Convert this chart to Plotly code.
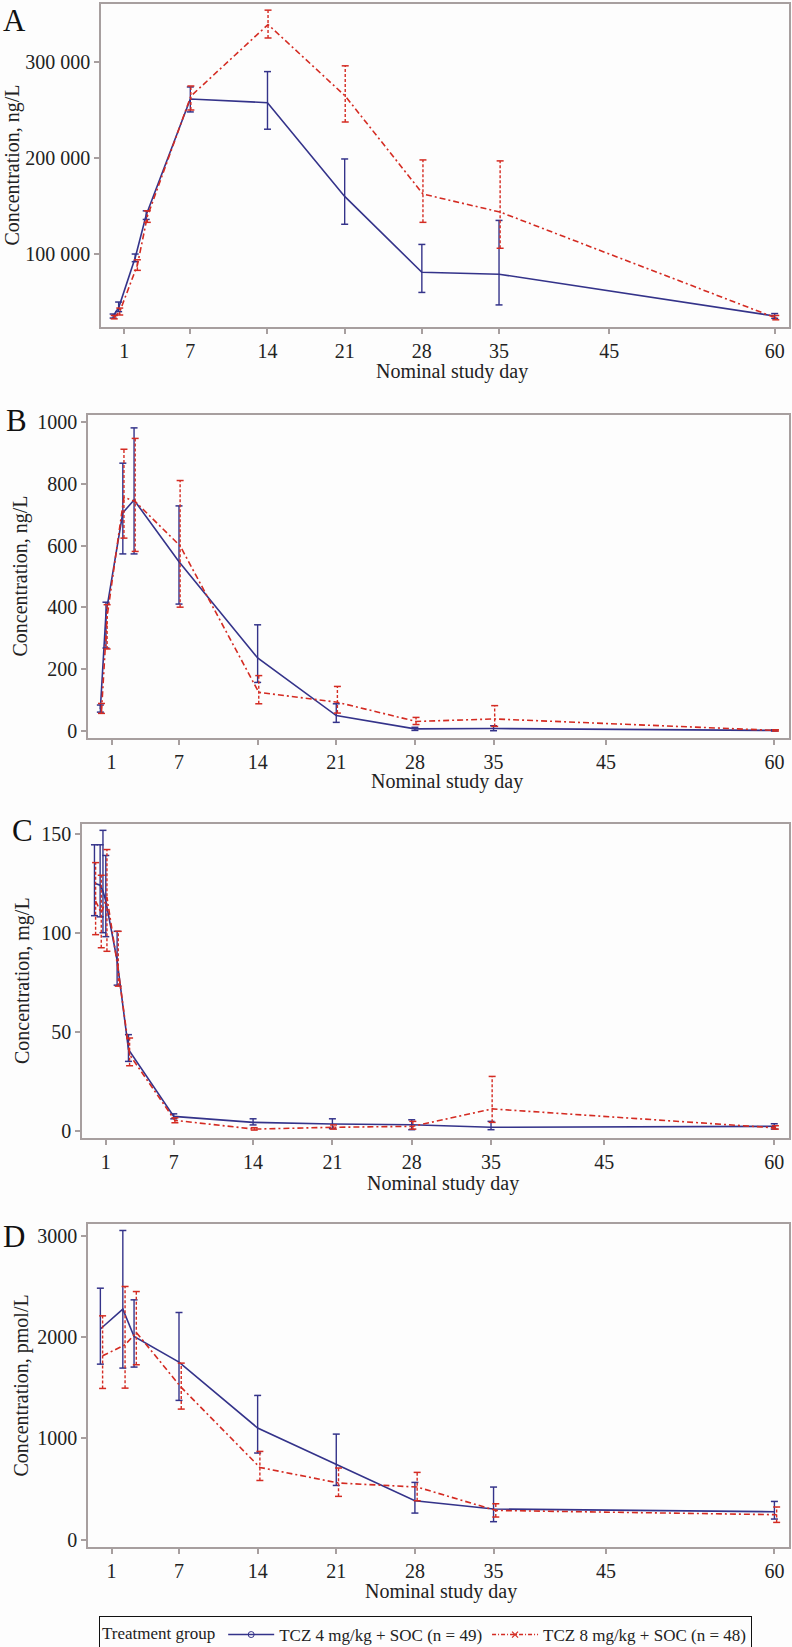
import plotly.graph_objects as go

W, H = 792, 1647
BLUE = "#34338a"
RED = "#d42b22"
FRAME = "#a79f9f"
FONT = "Liberation Serif"

# ---------------- data ----------------
x_tick_vals = [1, 7, 14, 21, 28, 35, 45, 60]

# Panel A (ng/L)
A_days_4 = [0, 0.5, 2, 3, 7, 14, 21, 28, 35, 60]
A_mean_4 = [35400, 44000, 96000, 140600, 261500, 257600, 160000, 81000, 79000, 35400]
A_lo_4 = [33300, 40000, 92000, 136000, 248000, 230000, 131000, 60000, 47000, 33000]
A_hi_4 = [37500, 50000, 100000, 145000, 274000, 290000, 199000, 110000, 135000, 38000]
A_days_8 = [0.1, 0.6, 2.2, 3.1, 7.05, 14.05, 21.05, 28.1, 35.1, 60.1]
A_mean_8 = [34000, 40000, 88500, 139000, 264500, 339000, 264600, 162500, 143700, 33500]
A_lo_8 = [32500, 36500, 83000, 133000, 250000, 325000, 237500, 133000, 106000, 31500]
A_hi_8 = [36000, 43700, 94000, 145000, 275000, 354000, 296000, 198000, 197000, 36000]
A_yticks = [100000, 200000, 300000]
A_yticktext = ["100 000", "200 000", "300 000"]

# Panel B (ng/L)
B_days_4 = [0, 0.5, 2, 3, 7, 14, 21, 28, 35, 60]
B_mean_4 = [72, 380, 706, 747, 548, 237, 51, 8, 9, 3]
B_lo_4 = [62, 269, 573, 573, 411, 158, 29, 3, 2, 1]
B_hi_4 = [85, 417, 866, 980, 728, 344, 89, 13, 18, 5]
B_days_8 = [0.1, 0.6, 2.1, 3.1, 7.1, 14.1, 21.1, 28.1, 35.1, 60.1]
B_mean_8 = [65, 370, 756, 742, 599, 126, 94, 32, 40, 3]
B_lo_8 = [58, 266, 624, 581, 401, 89, 59, 22, 16, 1]
B_hi_8 = [90, 409, 911, 946, 810, 180, 145, 45, 83, 5]
B_yticks = [0, 200, 400, 600, 800, 1000]
B_yticktext = ["0", "200", "400", "600", "800", "1000"]

# Panel C (mg/L)
C_days_4 = [0, 0.5, 0.75, 1.0, 2, 3, 7, 14, 21, 28, 35, 60]
C_mean_4 = [125, 124, 121, 116, 86, 41, 7.2, 4.2, 3.4, 3.0, 1.7, 2.2]
C_lo_4 = [108.6, 108, 100, 98, 73.5, 35, 6, 2.9, 1, 0.5, 0.5, 0.8]
C_hi_4 = [144.4, 144.4, 151.7, 139, 100.7, 48.5, 8.5, 6, 6, 5.5, 4.7, 3.5]
C_days_8 = [0.1, 0.6, 1.1, 2.1, 3.1, 7.1, 14.1, 21.1, 28.1, 35.1, 60.1]
C_mean_8 = [116, 110, 118, 81, 38.4, 5.2, 0.8, 1.7, 2.2, 11, 1.4]
C_lo_8 = [99, 92.4, 90.6, 73, 32.8, 4, 0.3, 0.8, 0.8, 4.2, 0.8]
C_hi_8 = [135.4, 129, 142, 100.7, 46.8, 6.5, 1.5, 2.9, 4.7, 27.4, 2.5]
C_yticks = [0, 50, 100, 150]
C_yticktext = ["0", "50", "100", "150"]

# Panel D (pmol/L)
D_days_4 = [0, 2, 3, 7, 14, 21, 28, 35, 60]
D_mean_4 = [2081, 2277, 2007, 1754, 1103, 747, 385, 303, 276]
D_lo_4 = [1734, 1695, 1705, 1376, 856, 536, 263, 178, 204]
D_hi_4 = [2484, 3054, 2369, 2244, 1425, 1043, 566, 520, 378]
D_days_8 = [0.2, 2.2, 3.2, 7.2, 14.2, 21.2, 28.2, 35.2, 60.2]
D_mean_8 = [1816, 1925, 2047, 1504, 714, 560, 520, 289, 247]
D_lo_8 = [1494, 1497, 1728, 1290, 585, 428, 385, 224, 171]
D_hi_8 = [2211, 2501, 2451, 1744, 872, 708, 665, 355, 323]
D_yticks = [0, 1000, 2000, 3000]
D_yticktext = ["0", "1000", "2000", "3000"]

group_names = ["TCZ 4 mg/kg + SOC (n = 49)", "TCZ 8 mg/kg + SOC (n = 48)"]
legend_title = "Treatment group"
x_title = "Nominal study day"

panels = [
    dict(letter="A", ytitle="Concentration, ng/L",
         d4=(A_days_4, A_mean_4, A_lo_4, A_hi_4), d8=(A_days_8, A_mean_8, A_lo_8, A_hi_8),
         yt=A_yticks, ytt=A_yticktext, yr=[24000, 360400],
         box=(101, 789, 4, 327), letter_xy=(14, 20), ytitle_x=12, xtitle_xy=(452, 371)),
    dict(letter="B", ytitle="Concentration, ng/L",
         d4=(B_days_4, B_mean_4, B_lo_4, B_hi_4), d8=(B_days_8, B_mean_8, B_lo_8, B_hi_8),
         yt=B_yticks, ytt=B_yticktext, yr=[-21.5, 1021.6],
         box=(88, 789, 415, 738), letter_xy=(16, 421), ytitle_x=20, xtitle_xy=(447, 781)),
    dict(letter="C", ytitle="Concentration, mg/L",
         d4=(C_days_4, C_mean_4, C_lo_4, C_hi_4), d8=(C_days_8, C_mean_8, C_lo_8, C_hi_8),
         yt=C_yticks, ytt=C_yticktext, yr=[-3.7, 154.9],
         box=(82, 789, 824, 1138), letter_xy=(22, 830), ytitle_x=22, xtitle_xy=(443, 1183)),
    dict(letter="D", ytitle="Concentration, pmol/L",
         d4=(D_days_4, D_mean_4, D_lo_4, D_hi_4), d8=(D_days_8, D_mean_8, D_lo_8, D_hi_8),
         yt=D_yticks, ytt=D_yticktext, yr=[-72, 3118],
         box=(88, 789, 1224, 1547), letter_xy=(14, 1236), ytitle_x=21, xtitle_xy=(441, 1591)),
]

X_RANGE = [-1.1, 61.3]

fig = go.Figure()
annotations = []


def px_x(v):
    return v / W


def px_y(v):
    return 1 - v / H


def add_series(xa, ya, days, mean, lo, hi, color, dash, errdash):
    # error bar stems
    ex, ey = [], []
    for d, l, h in zip(days, lo, hi):
        ex += [d, d, None]
        ey += [l, h, None]
    fig.add_trace(go.Scatter(x=ex, y=ey, mode="lines", xaxis=xa, yaxis=ya,
                             line=dict(color=color, width=1.4, dash=errdash),
                             showlegend=False, hoverinfo="skip"))
    # caps
    fig.add_trace(go.Scatter(x=list(days) + list(days), y=list(lo) + list(hi), mode="markers",
                             xaxis=xa, yaxis=ya,
                             marker=dict(symbol="line-ew", size=5, color=color,
                                         line=dict(color=color, width=1.5)),
                             showlegend=False, hoverinfo="skip"))
    # mean line
    fig.add_trace(go.Scatter(x=days, y=mean, mode="lines", xaxis=xa, yaxis=ya,
                             line=dict(color=color, width=1.6, dash=dash),
                             showlegend=False))


layout_axes = {}
for i, p in enumerate(panels):
    n = "" if i == 0 else str(i + 1)
    xa, ya = "x" + n, "y" + n
    x0, x1, y0, y1 = p["box"]
    axis_common = dict(showline=True, mirror=True, linecolor=FRAME, linewidth=1.5,
                       ticks="outside", ticklen=5, tickwidth=1.5, tickcolor=FRAME,
                       showgrid=False, zeroline=False, automargin=False,
                       tickfont=dict(family=FONT, size=20, color="#222"))
    layout_axes["xaxis" + n] = dict(axis_common, domain=[px_x(x0), px_x(x1)], range=X_RANGE,
                                    tickvals=x_tick_vals, ticktext=[str(v) for v in x_tick_vals],
                                    anchor=ya)
    layout_axes["yaxis" + n] = dict(axis_common, domain=[px_y(y1), px_y(y0)], range=p["yr"],
                                    tickvals=p["yt"], ticktext=p["ytt"], anchor=xa)
    add_series(xa, ya, *p["d4"], BLUE, "solid", "solid")
    add_series(xa, ya, *p["d8"], RED, "6px,3px,2px,3px", "3px,2px")

    lx, ly = p["letter_xy"]
    annotations.append(dict(text=p["letter"], x=px_x(lx), y=px_y(ly), xref="paper", yref="paper",
                            showarrow=False, xanchor="center", yanchor="middle",
                            font=dict(family=FONT, size=31, color="#111")))
    annotations.append(dict(text=p["ytitle"], x=px_x(p["ytitle_x"]), y=px_y((y0 + y1) / 2),
                            xref="paper", yref="paper", showarrow=False, textangle=-90,
                            xanchor="center", yanchor="middle",
                            font=dict(family=FONT, size=20, color="#222")))
    tx, ty = p["xtitle_xy"]
    annotations.append(dict(text=x_title, x=px_x(tx), y=px_y(ty), xref="paper", yref="paper",
                            showarrow=False, xanchor="center", yanchor="middle",
                            font=dict(family=FONT, size=20, color="#222")))

# legend-only traces
fig.add_trace(go.Scatter(x=[None], y=[None], mode="lines+markers", name=group_names[0],
                         line=dict(color=BLUE, width=1.6),
                         marker=dict(symbol="circle-open", size=6, color=BLUE)))
fig.add_trace(go.Scatter(x=[None], y=[None], mode="lines+markers", name=group_names[1],
                         line=dict(color=RED, width=1.6, dash="4px,2px,1px,2px"),
                         marker=dict(symbol="x-thin-open", size=6, color=RED,
                                     line=dict(color=RED, width=1.2))))

fig.update_layout(
    width=W, height=H,
    margin=dict(l=0, r=0, t=0, b=0, autoexpand=False),
    paper_bgcolor="#fdfdfd", plot_bgcolor="#fdfdfd",
    font=dict(family=FONT, size=17, color="#222"),
    annotations=annotations,
    showlegend=True,
    legend=dict(orientation="h", x=px_x(99), y=px_y(1616), xanchor="left", yanchor="top",
                bordercolor="#111", borderwidth=1, bgcolor="#fdfdfd",
                title=dict(text=legend_title, side="left", font=dict(family=FONT, size=17)),
                font=dict(family=FONT, size=17), itemwidth=46, tracegroupgap=0),
    **layout_axes,
)

fig.write_html("out.html", config={"displayModeBar": False},
               post_script="document.body.style.margin='0';")
